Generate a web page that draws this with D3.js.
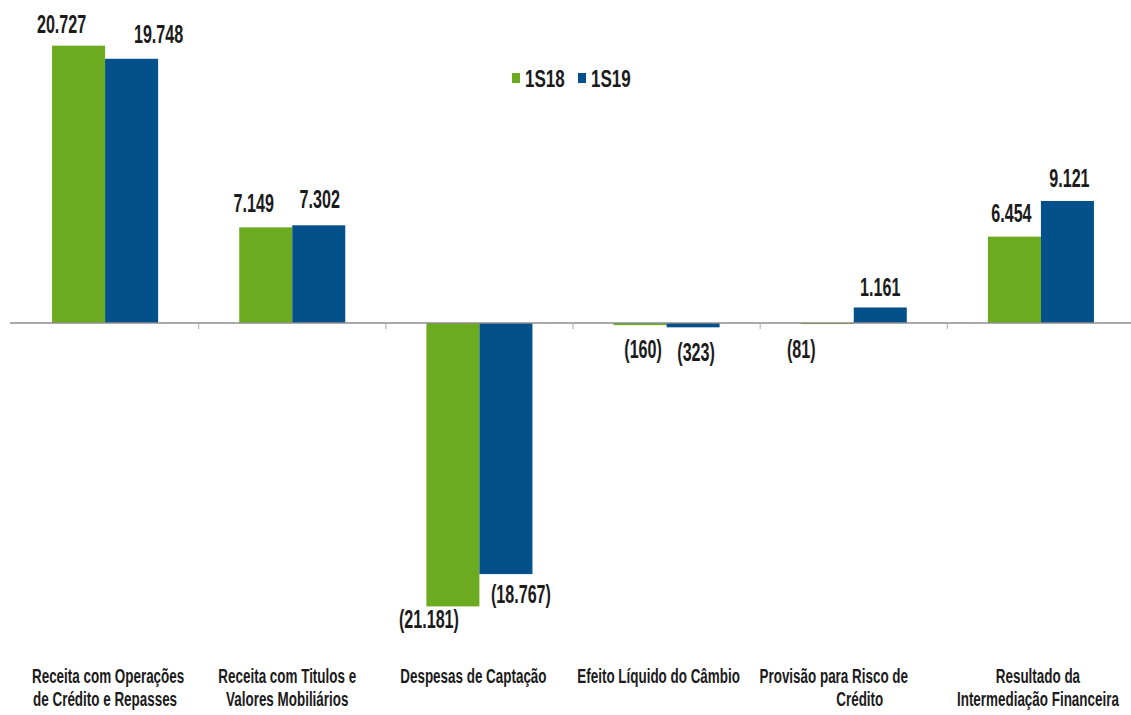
<!DOCTYPE html>
<html>
<head>
<meta charset="utf-8">
<script src="https://cdn.jsdelivr.net/npm/d3@7"></script>
<style>
  html, body { margin: 0; padding: 0; background: #ffffff; }
  svg { display: block; }
  text { font-family: "Liberation Sans", Arial, sans-serif; font-weight: bold; fill: #1b1b1b; }
</style>
</head>
<body>
<svg id="chart" width="1131" height="715"></svg>
<script>
// ---- data ----
const categoryLines = [
  ["Receita com Operações", "de Crédito e Repasses"],
  ["Receita com Titulos e", "Valores Mobiliários"],
  ["Despesas de Captação"],
  ["Efeito Líquido do Câmbio"],
  ["Provisão para Risco de", "Crédito"],
  ["Resultado da", "Intermediação Financeira"]
];
const seriesNames = ["1S18", "1S19"];
const values1S18 = [20727, 7149, -21181, -160, -81, 6454];
const values1S19 = [19748, 7302, -18767, -323, 1161, 9121];

// label nudges (layout only): [dx, dy] from bar centre / bar end
const nudge1S18 = [[-17, -13], [-12, -15], [-24, 22], [3, 33], [-26, 34], [-3, -15]];
const nudge1S19 = [[27, -16], [1, -17], [15, 29], [3, 34], [0, -11], [2, -14]];
// category label line nudges (layout only)
const catLineDx = [[3, 0], [-5, -5], [-6], [-8], [-20, 6], [-3, -3]];

const colors = { "1S18": "#6cab1f", "1S19": "#03508b" };

// ---- layout ----
const svg = d3.select("#chart");
const zeroY = 323, k = 0.01338;
const y = d3.scaleLinear().domain([-22000, 22000]).range([zeroY + 22000 * k, zeroY - 22000 * k]);
const x0 = d3.scaleBand().domain(d3.range(categoryLines.length)).range([11.5, 1134.5]).paddingInner(0).paddingOuter(0);
const x1 = d3.scaleBand().domain(seriesNames).range([0, x0.bandwidth()]).paddingInner(0).paddingOuter(0.765);

const ptBR = d3.formatLocale({ decimal: ",", thousands: ".", grouping: [3], currency: ["R$", ""] });
const fmtNum = ptBR.format(",d");
const fmt = v => v < 0 ? "(" + fmtNum(-v) + ")" : fmtNum(v);

const rows = [];
categoryLines.forEach((c, i) => {
  rows.push({ i, s: "1S18", v: values1S18[i], n: nudge1S18[i] });
  rows.push({ i, s: "1S19", v: values1S19[i], n: nudge1S19[i] });
});

// bars
svg.append("g").selectAll("rect").data(rows).join("rect")
  .attr("x", d => x0(d.i) + x1(d.s))
  .attr("width", x1.bandwidth())
  .attr("y", d => Math.min(y(d.v), y(0)))
  .attr("height", d => Math.abs(y(d.v) - y(0)))
  .attr("fill", d => colors[d.s]);

// axis line + ticks at category boundaries
const ax = svg.append("g");
ax.append("line").attr("x1", 10).attr("x2", 1131).attr("y1", y(0)).attr("y2", y(0))
  .attr("stroke", "#8c8c8c").attr("stroke-width", 1.5);
ax.selectAll("line.tick").data(d3.range(1, categoryLines.length)).join("line")
  .attr("class", "tick")
  .attr("x1", d => x0(d)).attr("x2", d => x0(d))
  .attr("y1", y(0) - 1).attr("y2", y(0) + 6)
  .attr("stroke", "#aaaaaa").attr("stroke-width", 1);

// value labels
svg.append("g").selectAll("text").data(rows).join("text")
  .attr("text-anchor", "middle")
  .attr("font-size", 26)
  .attr("transform", d => {
    const cx = x0(d.i) + x1(d.s) + x1.bandwidth() / 2 + d.n[0];
    const cy = y(d.v) + d.n[1];
    return `translate(${cx},${cy}) scale(0.62,1)`;
  })
  .text(d => fmt(d.v));

// category labels
const cat = svg.append("g").selectAll("g").data(categoryLines.map((l, i) => ({ l, i }))).join("g")
  .attr("transform", d => `translate(${x0(d.i) + x0.bandwidth() / 2},683)`);
cat.selectAll("text").data(d => d.l.map((t, j) => ({ t, j, dx: catLineDx[d.i][j] || 0 }))).join("text")
  .attr("text-anchor", "middle")
  .attr("font-size", 21)
  .attr("transform", d => `translate(${d.dx},${d.j * 22.5}) scale(0.64,1)`)
  .text(d => d.t);

// legend
const leg = svg.append("g").attr("transform", "translate(512,0)");
const li = leg.selectAll("g").data(seriesNames).join("g")
  .attr("transform", (d, i) => `translate(${i * 66},0)`);
li.append("rect").attr("x", 0).attr("y", 73).attr("width", 8).attr("height", 10).attr("fill", d => colors[d]);
li.append("text").attr("font-size", 23)
  .attr("transform", "translate(13,86.5) scale(0.74,1)")
  .text(d => d);
</script>
</body>
</html>
